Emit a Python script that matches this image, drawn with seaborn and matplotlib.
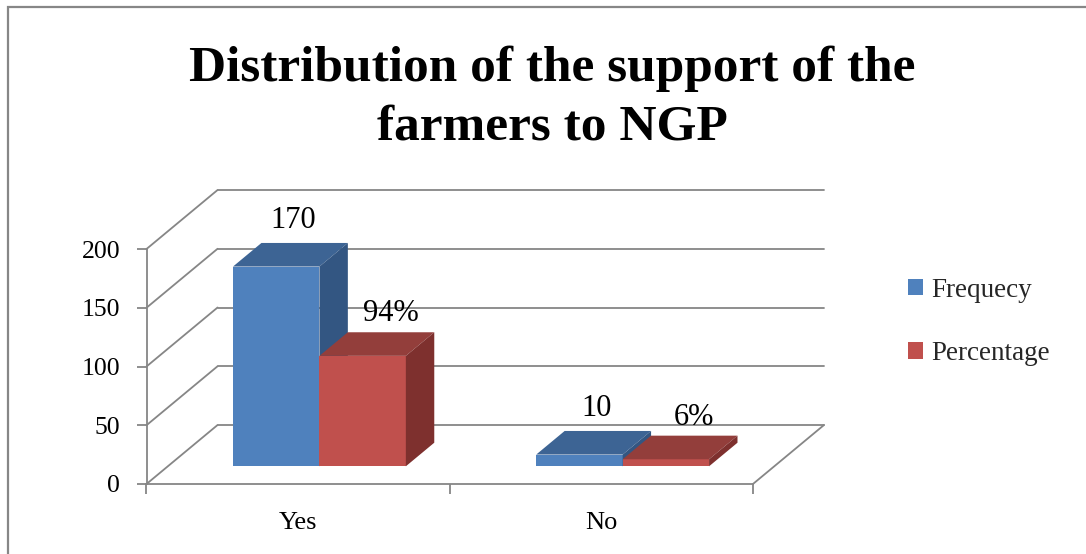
import numpy as np
import pandas as pd
import seaborn as sns
import matplotlib
matplotlib.use("Agg")
import matplotlib.pyplot as plt
from matplotlib.patches import Polygon, Patch, Rectangle

# ---------------- data ----------------
categories = ["Yes", "No"]
series = ["Frequecy", "Percentage"]
frequency = [170, 10]
percentage = [94, 6]
freq_labels = ["170", "10"]
pct_labels = ["94%", "6%"]
y_ticks = [0, 50, 100, 150, 200]
title = "Distribution of the support of the\nfarmers to NGP"

sns.set_theme(style="white")
plt.rcParams["font.family"] = ["Liberation Serif", "DejaVu Serif"]

df = pd.DataFrame({
    "category": categories * 2,
    "series": [series[0]] * len(categories) + [series[1]] * len(categories),
    "value": frequency + percentage,
})

W, H = 1086, 554
fig = plt.figure(figsize=(W / 100, H / 100), dpi=100)
ax = fig.add_axes([146.5 / W, 1 - 484 / H, (828.75 - 146.5) / W, (484 - 190.25) / H])

front_colors = ["#4F81BD", "#C0504D"]
top_colors = ["#3D6494", "#933E3B"]
side_colors = ["#335682", "#7E302E"]
grid = "#868686"

sns.barplot(data=df, x="category", y="value", hue="series", order=categories,
            hue_order=series, palette=front_colors, saturation=1, width=0.57,
            errorbar=None, linewidth=0, legend=False, ax=ax)

ax.set_xlim(-0.5, 1.75)
ax.set_ylim(0, 250)

DX, DY = 71 / 303, 50.2     # wall depth in data units
f0, f1 = 0.3, 0.7           # bar depth band
bdx, bdy = (f1 - f0) * DX, (f1 - f0) * DY

all_labels = [freq_labels, pct_labels]
label_offsets = [(3, 8), (14, 4)]
for i, cont in enumerate(ax.containers):
    for j, p in enumerate(cont.patches):
        p.set_x(p.get_x() + f0 * DX)
        p.set_y(p.get_y() + f0 * DY)
        p.set_zorder(3 + i)
        x0 = p.get_x()
        x1 = x0 + p.get_width()
        y0 = p.get_y()
        y1 = y0 + p.get_height()
        top = Polygon([(x0, y1), (x0 + bdx, y1 + bdy), (x1 + bdx, y1 + bdy), (x1, y1)],
                      closed=True, fc=top_colors[i], ec="none", zorder=3 + i)
        side = Polygon([(x1, y0), (x1 + bdx, y0 + bdy), (x1 + bdx, y1 + bdy), (x1, y1)],
                       closed=True, fc=side_colors[i], ec="none", zorder=3 + i)
        ax.add_patch(top)
        ax.add_patch(side)
        ax.annotate(all_labels[i][j], xy=((x0 + x1) / 2 + bdx / 2, y1 + bdy),
                    xytext=label_offsets[i], textcoords="offset pixels",
                    ha="center", va="bottom", fontsize=22, color="black", zorder=10)

# back wall gridlines and floor
for v in y_ticks:
    ax.plot([-0.5, -0.5 + DX], [v, v + DY], color=grid, lw=1.3, zorder=1, clip_on=False)
    ax.plot([-0.5 + DX, 1.5 + DX], [v + DY, v + DY], color=grid, lw=1.3, zorder=1, clip_on=False)
ax.plot([1.5, 1.5 + DX], [0, DY], color=grid, lw=1.3, zorder=1, clip_on=False)

for s in ["top", "right"]:
    ax.spines[s].set_visible(False)
for s in ["left", "bottom"]:
    ax.spines[s].set_color(grid)
    ax.spines[s].set_linewidth(1.3)
ax.spines["left"].set_bounds(0, 200)
ax.spines["bottom"].set_bounds(-0.5, 1.5)

ax.set_yticks(y_ticks)
ax.set_yticklabels([str(v) for v in y_ticks])
ax.tick_params(axis="y", left=True, direction="out", length=7, width=1.3,
               color=grid, pad=12, labelsize=18.5, labelcolor="black")
ax.set_xticks([-0.5, 0.5, 1.5])
ax.set_xticklabels([])
ax.set_xticks([0, 1], minor=True)
ax.set_xticklabels(categories, minor=True)
ax.tick_params(axis="x", which="major", bottom=True, direction="out", length=7,
               width=1.3, color=grid)
ax.tick_params(axis="x", which="minor", bottom=True, length=0, pad=20,
               labelsize=19, labelcolor="black")
ax.set_xlabel("")
ax.set_ylabel("")
ax.patch.set_alpha(0)

handles = [Patch(facecolor=c, edgecolor="none") for c in front_colors]
fig.legend(handles, series, loc="center left", bbox_to_anchor=(908 / W, 1 - 322 / H),
           frameon=False, fontsize=19.5, handlelength=0.55, handleheight=0.55,
           handletextpad=0.3, labelspacing=1.42, borderpad=0, borderaxespad=0)

fig.text(552.5 / W, 1 - 140 / H, title, ha="center", va="baseline",
         fontsize=37, fontweight="bold", linespacing=1.38, color="black")

fig.add_artist(Rectangle((8 / W, -0.05), 1.2, 1.05 - 7 / H, transform=fig.transFigure,
                         fill=False, ec="#878787", lw=1.6))

fig.savefig("out.png", dpi=100, facecolor="white")
